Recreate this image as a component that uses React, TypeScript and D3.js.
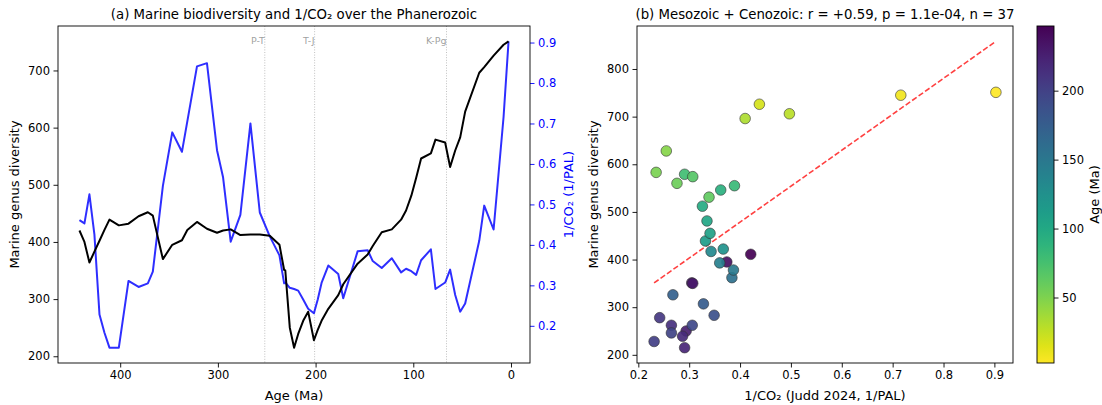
import React, { useEffect, useRef } from "react";
import * as d3 from "d3";

// ages (Ma) with marine genus diversity and 1/CO2 (Judd 2024, 1/PAL)
const ages = [
  441.7, 436.6, 431.5, 426.4, 421.2, 416.1, 411.0, 401.4, 391.5, 381.2, 371.7, 366.6,
  356.3, 346.7, 336.8, 331.3, 321.4, 311.2, 300.9, 294.7, 286.9, 277.0, 266.7, 257.1,
  246.9, 237.0, 232.2, 231.0, 226.4, 222.0, 217.8, 212.7, 207.6, 201.7, 197.8, 193.9,
  187.0, 176.8, 171.7, 157.0, 146.7, 141.5, 132.3, 122.0, 112.5, 107.4, 102.0, 97.1,
  92.0, 82.0, 77.3, 67.4, 62.3, 57.1, 52.0, 46.9, 32.5, 27.4, 17.8, 7.6, 2.5,
];
const diversity = [
  420, 400, 364, 383, 402, 421, 439, 429, 432, 445, 452, 446,
  370, 395, 403, 421, 435, 423, 416, 420, 422, 412, 413, 413,
  411, 395, 351, 350, 250, 215, 239, 262, 278, 228, 246, 262,
  283, 307, 326, 362, 378, 393, 417, 422, 439, 455, 481, 512,
  546, 555, 579, 574, 531, 560, 583, 628, 696, 706, 726, 745, 751,
];
const invCO2 = [
  0.461, 0.453, 0.525, 0.426, 0.228, 0.183, 0.146, 0.146, 0.311, 0.296, 0.305, 0.334,
  0.546, 0.678, 0.630, 0.705, 0.841, 0.849, 0.634, 0.567, 0.408, 0.474, 0.700, 0.480,
  0.421, 0.374, 0.305, 0.307, 0.294, 0.291, 0.287, 0.265, 0.242, 0.231, 0.265, 0.306,
  0.349, 0.328, 0.268, 0.384, 0.387, 0.360, 0.343, 0.367, 0.332, 0.341, 0.335, 0.326,
  0.362, 0.389, 0.291, 0.307, 0.339, 0.276, 0.235, 0.255, 0.410, 0.497, 0.438, 0.716, 0.903,
];

const boundaryAges = [252, 201, 66];
const boundaryLabels = ["P-T", "T-J", "K-Pg"];

const ageTicks = [400, 300, 200, 100, 0];
const divTicksA = [200, 300, 400, 500, 600, 700];
const co2Ticks = [0.2, 0.3, 0.4, 0.5, 0.6, 0.7, 0.8, 0.9];
const co2TicksB = [0.2, 0.3, 0.4, 0.5, 0.6, 0.7, 0.8, 0.9];
const divTicksB = [200, 300, 400, 500, 600, 700, 800];
const colorTicks = [50, 100, 150, 200];

const W = 1102, H = 405;
const FONT = "DejaVu Sans, sans-serif";
const TICK_FS = 11.5, LABEL_FS = 13, TITLE_FS = 13.3;

function pad([lo, hi]: number[]) {
  const m = (hi - lo) * 0.05;
  return [lo - m, hi + m];
}

function styleAxis(g: any, color = "#000") {
  g.select(".domain").remove();
  g.selectAll(".tick line").attr("stroke", color).attr("stroke-width", 0.9);
  g.selectAll(".tick text").attr("fill", color).attr("font-size", TICK_FS).attr("font-family", FONT);
}

export default function App() {
  const ref = useRef<SVGSVGElement>(null);

  useEffect(() => {
    const svg = d3.select(ref.current);
    svg.selectAll("*").remove();
    const rows = ages.map((a, i) => ({ age: a, div: diversity[i], co2: invCO2[i] }));

    // ---------- (a) time series ----------
    const a = { l: 58, r: 530, t: 26, b: 363 };
    const x = d3.scaleLinear().domain(pad(d3.extent(ages) as number[]).reverse()).range([a.l, a.r]);
    const y = d3.scaleLinear().domain(pad(d3.extent(diversity) as number[])).range([a.b, a.t]);
    const y2 = d3.scaleLinear().domain(pad(d3.extent(invCO2) as number[])).range([a.b, a.t]);

    const ga = svg.append("g");
    const clipA = ga.append("clipPath").attr("id", "clipA");
    clipA.append("rect").attr("x", a.l).attr("y", a.t).attr("width", a.r - a.l).attr("height", a.b - a.t);
    const plotA = ga.append("g").attr("clip-path", "url(#clipA)");

    boundaryAges.forEach((b, i) => {
      plotA.append("line").attr("x1", x(b)).attr("x2", x(b)).attr("y1", a.t).attr("y2", a.b)
        .attr("stroke", "#808080").attr("stroke-opacity", 0.55).attr("stroke-width", 0.9)
        .attr("stroke-dasharray", "1,1.6");
      ga.append("text").attr("x", x(b)).attr("y", a.t + 18).attr("text-anchor", "end")
        .attr("font-size", 9.5).attr("font-family", FONT).attr("fill", "#808080").attr("fill-opacity", 0.75)
        .text(boundaryLabels[i]);
    });

    plotA.append("path").datum(rows)
      .attr("d", d3.line<any>().x(d => x(d.age)).y(d => y2(d.co2)))
      .attr("fill", "none").attr("stroke", "blue").attr("stroke-opacity", 0.82).attr("stroke-width", 2)
      .attr("stroke-linejoin", "round");
    plotA.append("path").datum(rows)
      .attr("d", d3.line<any>().x(d => x(d.age)).y(d => y(d.div)))
      .attr("fill", "none").attr("stroke", "#000").attr("stroke-width", 2).attr("stroke-linejoin", "round");

    const axA = ga.append("g").attr("transform", `translate(0,${a.b})`)
      .call(d3.axisBottom(x).tickValues(ageTicks).tickSize(4.5).tickPadding(3.5).tickSizeOuter(0));
    styleAxis(axA);
    const ayA = ga.append("g").attr("transform", `translate(${a.l},0)`)
      .call(d3.axisLeft(y).tickValues(divTicksA).tickSize(4.5).tickPadding(3.5).tickSizeOuter(0));
    styleAxis(ayA);
    const ay2 = ga.append("g").attr("transform", `translate(${a.r},0)`)
      .call(d3.axisRight(y2).tickValues(co2Ticks).tickFormat(d3.format(".1f")).tickSize(4.5).tickPadding(3.5).tickSizeOuter(0));
    styleAxis(ay2, "blue");

    ga.append("rect").attr("x", a.l).attr("y", a.t).attr("width", a.r - a.l).attr("height", a.b - a.t)
      .attr("fill", "none").attr("stroke", "#000").attr("stroke-width", 0.9);

    ga.append("text").attr("x", (a.l + a.r) / 2).attr("y", 19).attr("text-anchor", "middle")
      .attr("font-size", TITLE_FS).attr("font-family", FONT).text("(a) Marine biodiversity and 1/CO₂ over the Phanerozoic");
    ga.append("text").attr("x", (a.l + a.r) / 2).attr("y", 400).attr("text-anchor", "middle")
      .attr("font-size", LABEL_FS).attr("font-family", FONT).text("Age (Ma)");
    ga.append("text").attr("transform", `translate(19,${(a.t + a.b) / 2}) rotate(-90)`).attr("text-anchor", "middle")
      .attr("font-size", LABEL_FS).attr("font-family", FONT).text("Marine genus diversity");
    ga.append("text").attr("transform", `translate(573,${(a.t + a.b) / 2}) rotate(-90)`).attr("text-anchor", "middle")
      .attr("font-size", LABEL_FS).attr("font-family", FONT).attr("fill", "blue").text("1/CO₂ (1/PAL)");

    // ---------- (b) scatter ----------
    const pts = rows.filter(d => d.age < 252);
    const b = { l: 637, r: 1013, t: 26, b: 363 };
    const mx = d3.mean(pts, d => d.co2)!, my = d3.mean(pts, d => d.div)!;
    const slope = d3.sum(pts, d => (d.co2 - mx) * (d.div - my)) / d3.sum(pts, d => (d.co2 - mx) ** 2);
    const icpt = my - slope * mx;
    const xExt = d3.extent(pts, d => d.co2) as number[];
    const fit = xExt.map(v => ({ co2: v, div: icpt + slope * v }));

    const xb = d3.scaleLinear().domain(pad(xExt)).range([b.l, b.r]);
    const yb = d3.scaleLinear()
      .domain(pad(d3.extent([...pts.map(d => d.div), ...fit.map(d => d.div)]) as number[]))
      .range([b.b, b.t]);
    const ageExt = d3.extent(pts, d => d.age) as number[];
    const cnorm = d3.scaleLinear().domain(ageExt).range([1, 0]);
    const color = (age: number) => d3.interpolateViridis(cnorm(age));

    const gb = svg.append("g");
    gb.append("path").datum(fit)
      .attr("d", d3.line<any>().x(d => xb(d.co2)).y(d => yb(d.div)))
      .attr("stroke", "red").attr("stroke-opacity", 0.75).attr("stroke-width", 1.6)
      .attr("stroke-dasharray", "5.5,2.4").attr("fill", "none");
    gb.selectAll("circle.pt").data(pts).join("circle")
      .attr("cx", d => xb(d.co2)).attr("cy", d => yb(d.div)).attr("r", 5.3)
      .attr("fill", d => color(d.age)).attr("fill-opacity", 0.92)
      .attr("stroke", "#333").attr("stroke-width", 0.6);

    const axB = gb.append("g").attr("transform", `translate(0,${b.b})`)
      .call(d3.axisBottom(xb).tickValues(co2TicksB).tickFormat(d3.format(".1f")).tickSize(4.5).tickPadding(3.5).tickSizeOuter(0));
    styleAxis(axB);
    const ayB = gb.append("g").attr("transform", `translate(${b.l},0)`)
      .call(d3.axisLeft(yb).tickValues(divTicksB).tickSize(4.5).tickPadding(3.5).tickSizeOuter(0));
    styleAxis(ayB);
    gb.append("rect").attr("x", b.l).attr("y", b.t).attr("width", b.r - b.l).attr("height", b.b - b.t)
      .attr("fill", "none").attr("stroke", "#000").attr("stroke-width", 0.9);

    gb.append("text").attr("x", (b.l + b.r) / 2).attr("y", 19).attr("text-anchor", "middle")
      .attr("font-size", TITLE_FS).attr("font-family", FONT)
      .text("(b) Mesozoic + Cenozoic: r = +0.59, p = 1.1e-04, n = 37");
    gb.append("text").attr("x", (b.l + b.r) / 2).attr("y", 400).attr("text-anchor", "middle")
      .attr("font-size", LABEL_FS).attr("font-family", FONT).text("1/CO₂ (Judd 2024, 1/PAL)");
    gb.append("text").attr("transform", `translate(598,${(b.t + b.b) / 2}) rotate(-90)`).attr("text-anchor", "middle")
      .attr("font-size", LABEL_FS).attr("font-family", FONT).text("Marine genus diversity");

    // ---------- colorbar ----------
    const cb = { l: 1037, r: 1054, t: 26, b: 363 };
    const cy = d3.scaleLinear().domain(ageExt).range([cb.b, cb.t]);
    const grad = svg.append("defs").append("linearGradient").attr("id", "cbar")
      .attr("x1", 0).attr("y1", 1).attr("x2", 0).attr("y2", 0);
    d3.range(0, 1.0001, 0.05).forEach(t => {
      grad.append("stop").attr("offset", t).attr("stop-color", d3.interpolateViridis(1 - t));
    });
    svg.append("rect").attr("x", cb.l).attr("y", cb.t).attr("width", cb.r - cb.l).attr("height", cb.b - cb.t)
      .attr("fill", "url(#cbar)").attr("stroke", "#000").attr("stroke-width", 0.9);
    const ac = svg.append("g").attr("transform", `translate(${cb.r},0)`)
      .call(d3.axisRight(cy).tickValues(colorTicks).tickSize(4.5).tickPadding(3.5).tickSizeOuter(0));
    styleAxis(ac);
    svg.append("text").attr("transform", `translate(1099,${(cb.t + cb.b) / 2}) rotate(-90)`).attr("text-anchor", "middle")
      .attr("font-size", LABEL_FS).attr("font-family", FONT).text("Age (Ma)");
  }, []);

  return (
    <svg ref={ref} width={W} height={H}
      style={{ position: "absolute", left: 0, top: 0, background: "#fff" }} />
  );
}
